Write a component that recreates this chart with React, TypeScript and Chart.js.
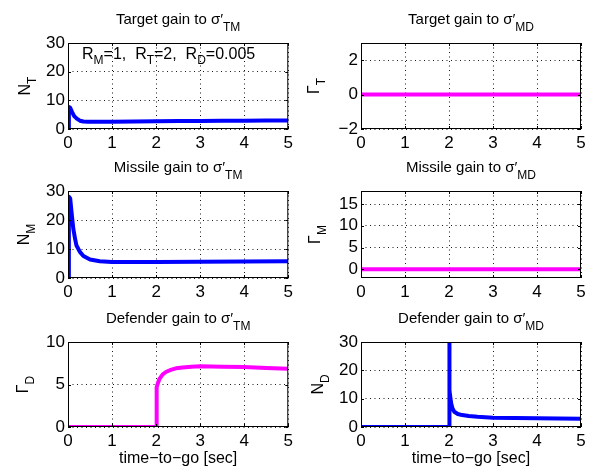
import React, { useEffect, useRef } from "react";
import { Chart, registerables } from "chart.js";

Chart.register(...registerables);

const FONT = "'Liberation Sans', Arial, Helvetica, sans-serif";
const BLUE = "#0000ff";
const MAGENTA = "#ff00ff";
const GRID = "rgba(0,0,0,0.9)";

// ---------- data ----------
const xTicks = [0, 1, 2, 3, 4, 5];

// Target gain to sigma'_TM  (N_T)
const tNT = [0, 0.02, 0.05, 0.09, 0.14, 0.2, 0.27, 0.35, 0.45, 0.7, 1, 1.5, 2, 2.5, 3, 3.5, 4, 4.5, 5];
const NT = [0, 7.7, 7.4, 6.0, 4.5, 3.6, 2.9, 2.6, 2.5, 2.5, 2.55, 2.65, 2.7, 2.75, 2.8, 2.85, 2.9, 2.95, 3.0];

// Target gain to sigma'_MD  (Gamma_T)
const tGT = [0, 5];
const GT = [0, 0];

// Missile gain to sigma'_TM  (N_M)
const tNM = [0, 0.02, 0.05, 0.08, 0.12, 0.16, 0.19, 0.27, 0.35, 0.5, 0.72, 1, 1.5, 2, 3, 4, 5];
const NM = [0, 28, 27.4, 22.8, 17, 13.6, 11.3, 9, 7.6, 6.4, 5.8, 5.5, 5.5, 5.5, 5.6, 5.7, 5.8];

// Missile gain to sigma'_MD  (Gamma_M)
const tGM = [0, 5];
const GM = [0, 0];

// Defender gain to sigma'_TM  (Gamma_D)
const tGD = [0, 2, 2.005, 2.02, 2.05, 2.08, 2.15, 2.23, 2.35, 2.45, 2.6, 2.8, 3, 3.5, 4, 4.5, 5];
const GD = [0, 0, 2.5, 4.7, 5.3, 5.7, 6.2, 6.5, 6.75, 6.9, 7.0, 7.1, 7.15, 7.1, 7.05, 6.95, 6.85];

// Defender gain to sigma'_MD  (N_D)
const tND = [0, 2, 2.001, 2.01, 2.02, 2.03, 2.05, 2.08, 2.12, 2.2, 2.3, 2.45, 2.65, 3, 3.5, 4, 5];
const ND = [0, 0, 40, 20, 13, 10.5, 8.3, 6.5, 5.4, 4.6, 4.2, 3.85, 3.6, 3.3, 3.15, 3.05, 2.95];

const yTicks30 = [0, 10, 20, 30];
const yTicksGT = [-2, 0, 2];
const yTicksGM = [0, 5, 10, 15];
const yTicksGD = [0, 5, 10];

type Part = { t: string; sub?: boolean };

const noteParts: Part[] = [
  { t: "R" }, { t: "M", sub: true }, { t: "=1,  " },
  { t: "R" }, { t: "T", sub: true }, { t: "=2,  " },
  { t: "R" }, { t: "D", sub: true }, { t: "=0.005" },
];
const xLabelText = "time\u2212to\u2212go [sec]";

interface Panel {
  key: string;
  col: number;
  row: number;
  title: Part[];
  ylabel: Part[];
  t: number[];
  v: number[];
  color: string;
  yMin: number;
  yMax: number;
  yTicks: number[];
  xlabel?: boolean;
  note?: Part[];
  ylabOff: number;
}

const panels: Panel[] = [
  { key: "a", col: 0, row: 0, title: [{ t: "Target gain to \u03c3\u2032" }, { t: "TM", sub: true }], ylabel: [{ t: "N" }, { t: "T", sub: true }], t: tNT, v: NT, color: BLUE, yMin: 0, yMax: 30, yTicks: yTicks30, note: noteParts, ylabOff: 38 },
  { key: "b", col: 1, row: 0, title: [{ t: "Target gain to \u03c3\u2032" }, { t: "MD", sub: true }], ylabel: [{ t: "\u0393" }, { t: "T", sub: true }], t: tGT, v: GT, color: MAGENTA, yMin: -2, yMax: 3, yTicks: yTicksGT, ylabOff: 42 },
  { key: "c", col: 0, row: 1, title: [{ t: "Missile gain to \u03c3\u2032" }, { t: "TM", sub: true }], ylabel: [{ t: "N" }, { t: "M", sub: true }], t: tNM, v: NM, color: BLUE, yMin: 0, yMax: 30, yTicks: yTicks30, ylabOff: 39 },
  { key: "d", col: 1, row: 1, title: [{ t: "Missile gain to \u03c3\u2032" }, { t: "MD", sub: true }], ylabel: [{ t: "\u0393" }, { t: "M", sub: true }], t: tGM, v: GM, color: MAGENTA, yMin: -2, yMax: 18, yTicks: yTicksGM, ylabOff: 41 },
  { key: "e", col: 0, row: 2, title: [{ t: "Defender gain to \u03c3\u2032" }, { t: "TM", sub: true }], ylabel: [{ t: "\u0393" }, { t: "D", sub: true }], t: tGD, v: GD, color: MAGENTA, yMin: 0, yMax: 10, yTicks: yTicksGD, xlabel: true, ylabOff: 40 },
  { key: "f", col: 1, row: 2, title: [{ t: "Defender gain to \u03c3\u2032" }, { t: "MD", sub: true }], ylabel: [{ t: "N" }, { t: "D", sub: true }], t: tND, v: ND, color: BLUE, yMin: 0, yMax: 30, yTicks: yTicks30, xlabel: true, ylabOff: 38 },
];

// ---------- layout (page pixels) ----------
const COLX = [[68, 289], [361, 581]];
const ROWY = [[43, 129], [191, 278], [342, 427]];
const CELLX = [[0, 297], [297, 594]];
const CELLY = [[0, 155], [155, 305], [305, 471]];

function richWidth(ctx: CanvasRenderingContext2D, parts: Part[], size: number, subSize: number) {
  let w = 0;
  for (const p of parts) {
    ctx.font = `${p.sub ? subSize : size}px ${FONT}`;
    w += ctx.measureText(p.t).width;
  }
  return w;
}

function drawRich(ctx: CanvasRenderingContext2D, parts: Part[], x: number, y: number, size: number, subSize: number, subDy: number, align: "center" | "left") {
  const w = richWidth(ctx, parts, size, subSize);
  let cx = align === "center" ? x - w / 2 : x;
  ctx.textAlign = "left";
  ctx.textBaseline = "alphabetic";
  for (const p of parts) {
    ctx.font = `${p.sub ? subSize : size}px ${FONT}`;
    ctx.fillText(p.t, cx, y + (p.sub ? subDy : 0));
    cx += ctx.measureText(p.t).width;
  }
}

function PanelChart({ panel }: { panel: Panel }) {
  const ref = useRef<HTMLCanvasElement | null>(null);
  const [cx0, cx1] = CELLX[panel.col];
  const [cy0, cy1] = CELLY[panel.row];
  const [x1, x2] = COLX[panel.col];
  const [y1, y2] = ROWY[panel.row];
  const W = cx1 - cx0;
  const H = cy1 - cy0;

  useEffect(() => {
    const canvas = ref.current;
    if (!canvas) return;

    const decor = {
      id: "decor",
      afterDraw(chart: any) {
        const ctx: CanvasRenderingContext2D = chart.ctx;
        const a = chart.chartArea;
        const xs = chart.scales.x;
        const ys = chart.scales.y;
        ctx.save();
        ctx.strokeStyle = "#000";
        ctx.lineWidth = 1;
        ctx.strokeRect(a.left + 0.5, a.top + 0.5, a.right - a.left - 1, a.bottom - a.top - 1);
        ctx.beginPath();
        const tl = 3;
        for (const v of xTicks) {
          const px = Math.round(xs.getPixelForValue(v)) + 0.5;
          ctx.moveTo(px, a.bottom);
          ctx.lineTo(px, a.bottom - tl);
          ctx.moveTo(px, a.top);
          ctx.lineTo(px, a.top + tl);
        }
        for (const v of panel.yTicks) {
          const py = Math.round(ys.getPixelForValue(v)) + 0.5;
          ctx.moveTo(a.left, py);
          ctx.lineTo(a.left + tl, py);
          ctx.moveTo(a.right, py);
          ctx.lineTo(a.right - tl, py);
        }
        ctx.stroke();

        ctx.fillStyle = "#000";
        const midX = (a.left + a.right) / 2;
        const midY = (a.top + a.bottom) / 2;
        // title
        drawRich(ctx, panel.title, midX, a.top - 19, 15, 12, 7, "center");
        // y label
        ctx.save();
        ctx.translate(a.left - panel.ylabOff, midY);
        ctx.rotate(-Math.PI / 2);
        drawRich(ctx, panel.ylabel, 0, 0, 16, 12, 6, "center");
        ctx.restore();
        // x label
        if (panel.xlabel) {
          ctx.font = `16px ${FONT}`;
          ctx.textAlign = "center";
          ctx.textBaseline = "alphabetic";
          ctx.fillText(xLabelText, midX, a.bottom + 36);
        }
        if (panel.note) {
          drawRich(ctx, panel.note, a.left + 14, a.top + 16, 16, 12, 5, "left");
        }
        ctx.restore();
      },
    };

    const tickFont = { family: FONT, size: 17 };
    const chart = new Chart(canvas, {
      type: "line",
      data: {
        datasets: [
          {
            data: panel.t.map((x, i) => ({ x, y: panel.v[i] })),
            borderColor: panel.color,
            borderWidth: 4,
            pointRadius: 0,
            tension: 0,
            fill: false,
            borderJoinStyle: "round",
          },
        ],
      },
      options: {
        animation: false,
        responsive: false,
        events: [],
        layout: { padding: { left: 0, top: y1 - cy0, right: cx1 - x2, bottom: 0 } },
        plugins: { legend: { display: false }, tooltip: { enabled: false }, title: { display: false } },
        scales: {
          x: {
            type: "linear",
            min: 0,
            max: 5,
            afterBuildTicks: (s: any) => {
              s.ticks = xTicks.map((v) => ({ value: v }));
            },
            afterFit: (s: any) => {
              s.height = cy1 - y2;
            },
            ticks: { font: tickFont, color: "#000", padding: 4, maxRotation: 0, autoSkip: false },
            grid: { color: GRID, drawTicks: false, lineWidth: 1 },
            border: { display: false, dash: [1, 3.5] },
          },
          y: {
            type: "linear",
            min: panel.yMin,
            max: panel.yMax,
            afterBuildTicks: (s: any) => {
              s.ticks = panel.yTicks.map((v) => ({ value: v }));
            },
            afterFit: (s: any) => {
              s.width = x1 - cx0;
            },
            ticks: {
              font: tickFont,
              color: "#000",
              padding: 3,
              autoSkip: false,
              callback: (v: any) => String(v).replace("-", "\u2212"),
            },
            grid: { color: GRID, drawTicks: false, lineWidth: 1 },
            border: { display: false, dash: [1, 3.5] },
          },
        },
      } as any,
      plugins: [decor],
    });
    return () => chart.destroy();
  }, []);

  return (
    <canvas
      ref={ref}
      width={W}
      height={H}
      style={{ position: "absolute", left: cx0, top: cy0, width: W, height: H }}
    />
  );
}

export default function App() {
  return (
    <div style={{ position: "absolute", left: 0, top: 0, width: 594, height: 471, background: "#fff" }}>
      {panels.map((p) => (
        <PanelChart key={p.key} panel={p} />
      ))}
    </div>
  );
}
